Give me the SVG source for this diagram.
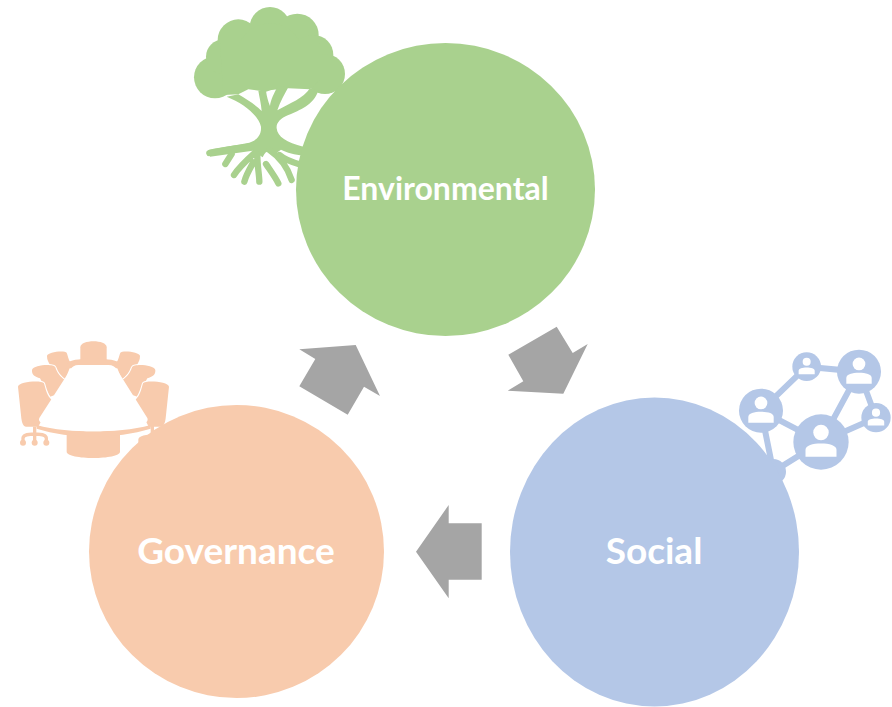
<svg xmlns="http://www.w3.org/2000/svg" width="892" height="707" viewBox="0 0 892 707">
<style>
.lbl{font-family:"Lato","Open Sans",sans-serif;font-weight:700;fill:#fff;text-anchor:middle}
.arrow{fill:#a5a5a5}
.g{fill:#a9d18e}.o{fill:#f8cbad}.b{fill:#b4c7e7}
.root{fill:none;stroke:#a9d18e;stroke-width:19;stroke-linecap:round;stroke-linejoin:round}
.link{stroke:#b4c7e7;stroke-width:18;fill:none}
.chair{fill:#f8cbad;stroke:#fff;stroke-width:6;paint-order:stroke}
</style>
<defs>
<g id="person"><circle cx="0" cy="-34" r="28" fill="#fff"/><path d="M-56,53V28C-56,12-30,5 0,5S56,12 56,28V53Z" fill="#fff"/></g>
</defs>
<rect width="892" height="707" fill="#fff"/>
<g id="tree-icon" transform="translate(180 0) scale(.33333)">
<g class="g"><circle cx="105" cy="232" r="63"/><circle cx="130" cy="170" r="52"/><circle cx="175" cy="120" r="62"/><circle cx="270" cy="82" r="61"/><circle cx="352" cy="105" r="64"/><circle cx="400" cy="165" r="60"/><circle cx="435" cy="222" r="60"/><circle cx="270" cy="170" r="100"/><path d="M120,130H420V240L390,268L325,265L290,265L258,275L205,268L175,283L130,285Z"/>
<path d="M140,290L175,283C205,300 230,318 245,333C243,310 238,290 235,272L258,272C260,290 265,305 270,318C272,300 283,278 292,262L327,258C315,280 300,305 292,331C330,310 370,295 390,265L415,272C400,315 360,330 325,345C300,355 288,370 290,385C292,410 320,428 370,440L370,466C345,465 320,458 303,449L285,462Q262,440 248,472L218,452L90,470L85,450L200,430C225,425 245,410 243,380C235,345 190,310 140,290Z"/></g>
<path class="root" d="M88,459C130,450 175,445 215,438M136,492L155,462M162,525C175,505 195,485 225,458M193,545C198,525 210,505 220,487M238,545C238,525 232,500 232,465M295,550C285,530 270,510 258,492M335,540C325,510 305,475 268,450M298,465C315,480 335,487 362,494"/>
</g>
<g id="meeting-icon" transform="translate(0 330) scale(.33333)">
<g>
<path class="o" d="M241,95V52C241,28 320,28 320,52V95Z"/>
<path class="chair" d="M141,78C141,65 195,60 200,68C205,80 205,92 215,100L195,150L150,105C145,95 141,90 141,78Z"/>
<path class="chair" d="M420,78C420,65 366,60 361,68C356,80 356,92 346,100L366,150L411,105C416,95 420,90 420,78Z"/>
<path class="chair" d="M96,120C100,105 160,100 166,112C172,130 180,140 195,150L165,195L150,200L120,145C105,140 95,135 96,120Z"/>
<path class="chair" d="M466,120C462,105 402,100 396,112C390,130 382,140 367,150L397,195L412,200L442,145C457,140 467,135 466,120Z"/>
<path class="chair" d="M54,170C55,155 125,150 132,160C138,180 140,195 155,210L115,290H78C70,290 66,280 64,265Z"/>
<path class="chair" d="M507,170C506,155 436,150 429,160C423,180 421,195 406,210L446,290H483C491,290 495,280 497,265Z"/>
<path class="o" d="M200,312H360V365C360,390 200,390 200,365Z"/>
<path class="o" d="M205,96C230,82 330,82 355,96L365,115H195ZM110,285C160,300 225,304 280,304C335,304 400,300 452,285L452,296C400,312 340,320 280,320C220,320 160,312 110,296Z"/>
</g>
<path d="M235,105H325C338,105 345,110 350,118L442,264C445,272 440,277 435,278C390,295 335,304 280,304C225,304 170,295 125,278C118,276 115,270 118,264L212,118C216,110 224,105 235,105Z" fill="#fff"/>
<path d="M104,290V312M69,338V325C69,316 78,312 104,312S139,316 139,325V338M104,312V338" fill="none" stroke="#f8cbad" stroke-width="10"/>
<circle class="o" cx="69" cy="338" r="9"/><circle class="o" cx="104" cy="338" r="9"/><circle class="o" cx="139" cy="338" r="9"/>
<path d="M457,285V320" stroke="#f8cbad" stroke-width="10" fill="none"/>
<path d="M415,345V330C415,320 425,315 460,312V345Z" class="o"/>
</g>
<g id="network-icon" transform="translate(730 340) scale(.33333)">
<path class="link" d="M230,80L387,95L273,306L93,212L230,80M387,95L438,233L273,306L130,395L93,212"/>
<g class="b"><circle cx="230" cy="80" r="43"/><circle cx="387" cy="95" r="66"/><circle cx="93" cy="212" r="66"/><circle cx="273" cy="306" r="83"/><circle cx="438" cy="233" r="44"/><circle cx="130" cy="395" r="38"/></g>
<use href="#person" transform="translate(230 80) scale(.43)"/>
<use href="#person" transform="translate(387 95) scale(.68)"/>
<use href="#person" transform="translate(93 212) scale(.68)"/>
<use href="#person" transform="translate(273 306) scale(.83)"/>
<use href="#person" transform="translate(438 233) scale(.44)"/>
</g>
<g id="connectors">
<polygon class="arrow" points="299.3,349.3 355.7,345 380,396 364,386.7 347.7,414.7 299.3,386.3 315.3,359"/>
<polygon class="arrow" points="556.7,326.7 572.7,353 587.7,344 563.3,393.7 507.7,390.7 523.3,381.3 508.3,354.7"/>
<polygon class="arrow" points="448.7,505 448.7,523.3 481.7,523.3 481.7,579.7 448.7,579.7 448.7,598.3 416,551.7"/>
</g>
<g id="environmental"><ellipse class="g" cx="445.500" cy="189.500" rx="149.500" ry="146.500"/><text class="lbl" x="445.500" y="200" font-size="32">Environmental</text></g>
<g id="social"><ellipse class="b" cx="654.500" cy="552" rx="144.500" ry="154.500"/><text class="lbl" x="654" y="564" font-size="37">Social</text></g>
<g id="governance"><ellipse class="o" cx="236.500" cy="551.500" rx="147.500" ry="146.500"/><text class="lbl" x="236" y="564" font-size="37">Governance</text></g>
</svg>
